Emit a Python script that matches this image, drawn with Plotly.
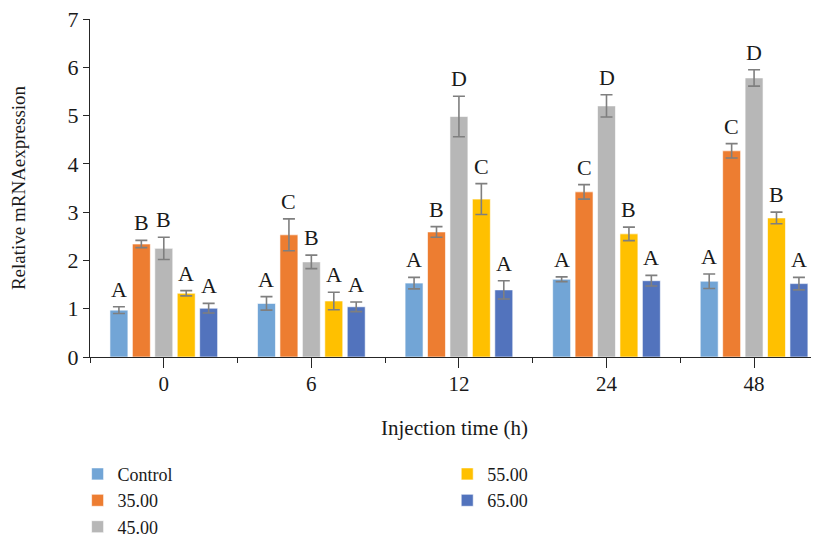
import plotly.graph_objects as go

categories = ["0", "6", "12", "24", "48"]
series_names = ["Control", "35.00", "45.00", "55.00", "65.00"]
colors = ["#72A5D6", "#ED7D31", "#B7B7B7", "#FFC000", "#5273BD"]

control = [0.97, 1.11, 1.53, 1.61, 1.57]
t35 = [2.34, 2.53, 2.59, 3.42, 4.27]
t45 = [2.25, 1.97, 4.98, 5.20, 5.78]
t55 = [1.32, 1.16, 3.27, 2.55, 2.88]
t65 = [1.01, 1.04, 1.39, 1.58, 1.52]

err_control = [0.07, 0.14, 0.12, 0.05, 0.15]
err_35 = [0.075, 0.33, 0.11, 0.15, 0.15]
err_45 = [0.23, 0.14, 0.42, 0.23, 0.17]
err_55 = [0.055, 0.18, 0.32, 0.14, 0.12]
err_65 = [0.10, 0.10, 0.19, 0.11, 0.13]

letters_control = ["A", "A", "A", "A", "A"]
letters_35 = ["B", "C", "B", "C", "C"]
letters_45 = ["B", "B", "D", "D", "D"]
letters_55 = ["A", "A", "C", "B", "B"]
letters_65 = ["A", "A", "A", "A", "A"]

values = [control, t35, t45, t55, t65]
errors = [err_control, err_35, err_45, err_55, err_65]
letters = [letters_control, letters_35, letters_45, letters_55, letters_65]

BARGAP = 0.24
BARGROUPGAP = 0.2
FONT = "Liberation Serif"

fig = go.Figure()
for j, name in enumerate(series_names):
    fig.add_trace(go.Bar(
        x=categories, y=values[j], name=name,
        marker=dict(color=colors[j], line=dict(color="rgba(255,255,255,0.6)", width=1)),
        error_y=dict(type="data", array=errors[j], color="#7F7F7F", thickness=1.6, width=6),
        legend="legend" if j < 3 else "legend2",
    ))

# center ticks on overlay axis
fig.add_trace(go.Scatter(x=categories, y=[None] * len(categories), xaxis="x2",
                         showlegend=False, hoverinfo="skip"))

n = len(series_names)
slot = (1 - BARGAP) / n
annotations = []
for j in range(n):
    for i, cat in enumerate(categories):
        annotations.append(dict(
            x=i + (j - (n - 1) / 2) * slot, y=values[j][i] + errors[j][i],
            xref="x", yref="y", text=letters[j][i], showarrow=False,
            yanchor="bottom", yshift=3,
            font=dict(family=FONT, size=22, color="#1a1a1a"),
        ))

fig.update_layout(
    width=811, height=527,
    margin=dict(l=82, r=0, t=11, b=178, autoexpand=False),
    paper_bgcolor="white", plot_bgcolor="white",
    barmode="group", bargap=BARGAP, bargroupgap=BARGROUPGAP,
    font=dict(family=FONT, size=20, color="#1a1a1a"),
    annotations=annotations,
    xaxis=dict(
        type="category", categoryorder="array", categoryarray=categories,
        range=[-0.5, 4.44], showline=True, linecolor="#262626", linewidth=1.4,
        ticks="outside", tickson="boundaries", ticklen=5, tickcolor="#262626", tickwidth=1.2,
        showgrid=False, tickfont=dict(family=FONT, size=21), automargin=False,
        ticklabelstandoff=8, ticklabeloverflow="allow",
        title=dict(text="Injection time (h)", font=dict(family=FONT, size=21), standoff=24),
    ),
    xaxis2=dict(
        type="category", categoryorder="array", categoryarray=categories,
        overlaying="x", matches="x", anchor="y", side="bottom",
        showline=False, showgrid=False, showticklabels=False, automargin=False,
        ticks="outside", ticklen=10, tickcolor="#262626", tickwidth=1.2,
    ),
    yaxis=dict(
        range=[0, 7], dtick=1, showline=True, linecolor="#262626", linewidth=1.4,
        ticks="outside", ticklen=6, tickcolor="#262626", tickwidth=1.2,
        showgrid=False, zeroline=False, tickfont=dict(family=FONT, size=22), automargin=False,
        ticklabeloverflow="allow",
        title=dict(text="Relative mRNAexpression", font=dict(family=FONT, size=19), standoff=38),
    ),
    legend=dict(x=-0.017, y=-0.292, xanchor="left", yanchor="top", orientation="v",
                font=dict(family=FONT, size=18), tracegroupgap=0, itemwidth=30,
                bgcolor="rgba(0,0,0,0)"),
    legend2=dict(x=0.49, y=-0.292, xanchor="left", yanchor="top", orientation="v",
                 font=dict(family=FONT, size=18), tracegroupgap=0, itemwidth=30,
                 bgcolor="rgba(0,0,0,0)"),
)

fig.write_html("out.html")
